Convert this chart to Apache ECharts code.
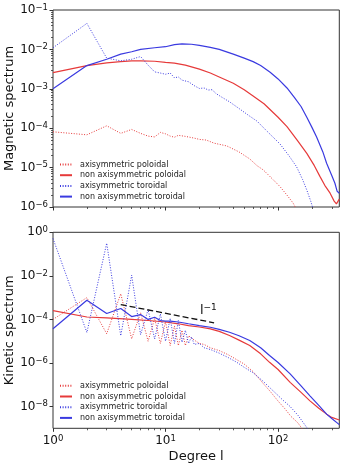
<!DOCTYPE html>
<html><head><meta charset="utf-8">
<script src="https://cdn.jsdelivr.net/npm/echarts@6/dist/echarts.min.js"></script>
<style>html,body{margin:0;padding:0;background:#fff}#c{width:343px;height:463px}</style>
</head><body><div id="c"></div>
<script>
// ---------- names / ticks ----------
const seriesNames = ['axisymmetric poloidal', 'non axisymmetric poloidal', 'axisymmetric toroidal', 'non axisymmetric toroidal'];
const xTicks = [1, 10, 100];
const xMinorTicks = [2, 3, 4, 5, 6, 7, 8, 9, 20, 30, 40, 50, 60, 70, 80, 90, 200, 300];
const magYTicks = [1e-6, 1e-5, 1e-4, 1e-3, 1e-2, 1e-1];
const kinYTicks = [1e-8, 1e-6, 1e-4, 1e-2, 1];
const xTitle = 'Degree l';
const magTitle = 'Magnetic spectrum';
const kinTitle = 'Kinetic spectrum';

// ---------- Magnetic spectrum ----------
const magAxiPolL = [1, 2, 3, 4, 5, 6, 7, 8, 9, 10, 11, 12, 13, 15, 18, 20, 23, 27, 35, 45, 56, 65, 74, 90, 104, 120, 136, 145];
const magAxiPolV = [8.1e-5, 6.8e-5, 1.15e-4, 7.4e-5, 9.3e-5, 7.4e-5, 6.3e-5, 6.0e-5, 7.8e-5, 7.2e-5, 6.3e-5, 5.9e-5, 6.6e-5, 6.2e-5, 5.6e-5, 5.2e-5, 5.0e-5, 4.17e-5, 3.55e-5, 2.5e-5, 1.66e-5, 1.12e-5, 8.7e-6, 5.0e-6, 3.3e-6, 2.0e-6, 1.26e-6, 8.9e-7];

const magNonPolL = [1, 2, 3, 4, 5, 6, 8, 10, 12, 15, 20, 25, 30, 40, 50, 60, 75, 100, 120, 150, 180, 210, 236, 260, 290, 315, 330, 340, 350];
const magNonPolV = [2.57e-3, 3.89e-3, 4.57e-3, 4.9e-3, 5.13e-3, 5.13e-3, 5.0e-3, 4.68e-3, 4.47e-3, 3.98e-3, 3.16e-3, 2.51e-3, 2.0e-3, 1.38e-3, 9.5e-4, 6.6e-4, 4.17e-4, 1.9e-4, 1.1e-4, 4.7e-5, 2.3e-5, 1.12e-5, 5.9e-6, 3.55e-6, 2.24e-6, 1.41e-6, 1.2e-6, 1.26e-6, 1.58e-6];

const magAxiTorL = [1, 2, 3, 4, 5, 6, 7, 8, 9, 10, 11, 12, 13, 14, 16, 18, 20, 22, 24, 26, 28, 32, 37, 45, 55, 65, 80, 104, 125, 146, 165, 180, 195, 205];
const magAxiTorV = [1.1e-2, 4.57e-2, 6.0e-3, 5.13e-3, 5.62e-3, 6.6e-3, 3.98e-3, 2.69e-3, 2.51e-3, 2.34e-3, 2.51e-3, 1.9e-3, 2.0e-3, 1.66e-3, 1.51e-3, 1.2e-3, 1.02e-3, 1.05e-3, 9.3e-4, 9.5e-4, 7.6e-4, 6.0e-4, 4.68e-4, 3.16e-4, 2.09e-4, 1.51e-4, 8.3e-5, 3.98e-5, 2.0e-5, 1.05e-5, 5.0e-6, 2.7e-6, 1.41e-6, 8.9e-7];

const magNonTorL = [1, 2, 3, 4, 5, 6, 8, 10, 12, 14, 17, 20, 25, 30, 40, 50, 60, 70, 85, 100, 120, 140, 160, 180, 200, 220, 250, 270, 300, 320, 335, 350];
const magNonTorV = [1.0e-3, 3.89e-3, 5.62e-3, 7.59e-3, 8.71e-3, 1.0e-2, 1.10e-2, 1.17e-2, 1.32e-2, 1.38e-2, 1.35e-2, 1.26e-2, 1.12e-2, 1.0e-2, 7.6e-3, 6.0e-3, 4.9e-3, 3.9e-3, 2.63e-3, 1.78e-3, 1.05e-3, 6.0e-4, 3.55e-4, 1.9e-4, 1.05e-4, 6.0e-5, 2.5e-5, 1.29e-5, 6.3e-6, 4.0e-6, 2.5e-6, 2.24e-6];

// ---------- Kinetic spectrum ----------
const kinAxiPolL = [1, 2, 3, 4, 5, 6, 7, 8, 9, 10, 11, 12, 13, 14, 15, 16, 18, 20, 22, 25, 30, 36, 43, 50, 60, 74, 85, 100, 115, 130, 150, 165];
const kinAxiPolV = [1.0e-4, 1.0e-3, 2.19e-5, 1.51e-3, 1.29e-5, 2.0e-4, 1.0e-5, 1.12e-4, 7.9e-6, 7.9e-5, 6.3e-6, 5.0e-5, 6.3e-6, 3.16e-5, 6.3e-6, 1.78e-5, 1.12e-5, 7.9e-6, 7.1e-6, 5.0e-6, 3.7e-6, 2.4e-6, 1.41e-6, 8.9e-7, 4.0e-7, 1.12e-7, 5.0e-8, 1.78e-8, 7.9e-9, 3.55e-9, 1.78e-9, 8.9e-10];

const kinNonPolL = [1, 2, 3, 5, 7, 10, 13, 16, 20, 25, 30, 37, 45, 56, 70, 84, 100, 128, 160, 192, 230, 270, 300, 350];
const kinNonPolV = [2.51e-4, 1.29e-4, 1.17e-4, 1.0e-4, 8.9e-5, 7.6e-5, 6.3e-5, 5.2e-5, 4.47e-5, 3.7e-5, 2.82e-5, 1.82e-5, 1.12e-5, 6.3e-6, 2.63e-6, 1.07e-6, 5.0e-7, 1.29e-7, 4.47e-8, 1.82e-8, 8.3e-9, 4.47e-9, 3.16e-9, 2.4e-9];

const kinAxiTorL = [1, 2, 3, 4, 5, 6, 7, 8, 9, 10, 11, 12, 13, 14, 15, 16, 17, 18, 20, 22, 25, 30, 36, 43, 50, 60, 74, 85, 98, 110, 128, 150, 168, 185];
const kinAxiTorV = [5.2e-1, 2.5e-5, 3.16e-1, 1.78e-5, 1.07e-2, 2.0e-5, 2.82e-4, 1.26e-5, 1.78e-4, 1.0e-5, 1.12e-4, 7.9e-6, 8.9e-5, 8.9e-6, 3.16e-5, 7.9e-6, 1.58e-5, 7.1e-6, 7.9e-6, 5.0e-6, 4.17e-6, 2.82e-6, 1.78e-6, 1.07e-6, 6.3e-7, 3.55e-7, 1.41e-7, 7.1e-8, 3.55e-8, 2.0e-8, 1.0e-8, 4.0e-9, 1.78e-9, 8.9e-10];

const kinNonTorL = [1, 2, 3, 4, 5, 6, 7, 8, 9, 10, 11, 13, 16, 20, 25, 30, 37, 45, 56, 70, 84, 100, 128, 160, 192, 230, 270, 300, 350];
const kinNonTorV = [3.7e-5, 7.6e-4, 1.86e-4, 3.16e-4, 1.35e-4, 1.66e-4, 1.0e-4, 1.26e-4, 8.9e-5, 8.3e-5, 8.3e-5, 7.6e-5, 6.3e-5, 5.2e-5, 4.37e-5, 3.47e-5, 2.57e-5, 1.78e-5, 1.07e-5, 5.0e-6, 2.19e-6, 1.05e-6, 3.16e-7, 8.9e-8, 3.1e-8, 1.12e-8, 4.47e-9, 2.82e-9, 1.48e-9];

// l^-1 reference slope
const slopeL = [4, 27];
const slopeV = [4.8e-4, 7.0e-5];
const slopeLabelAt = [24, 2.6e-4];

// ---------- styling ----------
const RED = '#e63a3a', BLUE = '#3a3ae0';
const FONT = 'DejaVu Sans';
const TXT = '#111';
const AX = '#333';

function zip(a, b) { return a.map((v, i) => [v, b[i]]); }
function sup(v) {
  const e = Math.round(Math.log10(v));
  const s = e < 0 ? '\u2212' + (-e) : String(e);
  return '{b|10}{s|' + s + '}';
}
const richTick = {
  b: { fontSize: 12, lineHeight: 14, fontFamily: FONT, color: TXT, verticalAlign: 'middle' },
  s: { fontSize: 8.5, lineHeight: 3, fontFamily: FONT, color: TXT, verticalAlign: 'top' }
};
function magMinor() {
  const out = [];
  for (let d = -6; d <= -2; d++) for (let k = 2; k <= 9; k++) out.push(k * Math.pow(10, d));
  return out;
}
const magYMinor = magMinor();

const dotted = [1, 1.6];
function lineSeries(name, xi, yi, xs, ys, color, isDotted, z) {
  return {
    type: 'line', name: name, xAxisIndex: xi, yAxisIndex: yi,
    data: zip(xs, ys), symbol: 'none', showSymbol: false, smooth: false, clip: true,
    lineStyle: { color: color, width: isDotted ? 1 : 1.2, type: isDotted ? dotted : 'solid' },
    itemStyle: { color: color }, z: z, animation: false
  };
}

function xAxisMajor(grid, showLabels) {
  return {
    gridIndex: grid, type: 'log', min: 1, max: 350, position: 'bottom',
    axisLine: { show: false }, splitLine: { show: false },
    axisTick: { show: true, inside: false, length: 3.5, customValues: xTicks, lineStyle: { color: AX, width: 1 } },
    axisLabel: { show: showLabels, customValues: xTicks, formatter: sup, rich: richTick, margin: 6, hideOverlap: false, showMinLabel: true, showMaxLabel: true },
    name: showLabels ? xTitle : '', nameLocation: 'middle', nameGap: 22, nameMoveOverlap: false,
    nameTextStyle: { fontSize: 13, fontFamily: FONT, color: TXT }
  };
}
function xAxisMinor(grid) {
  return {
    gridIndex: grid, type: 'log', min: 1, max: 350, position: 'bottom',
    axisLine: { show: false }, splitLine: { show: false },
    axisTick: { show: true, length: 2, customValues: xMinorTicks, lineStyle: { color: AX, width: 0.8 } },
    axisLabel: { show: false }
  };
}
function yAxisMajor(grid, min, max, ticks, title) {
  return {
    gridIndex: grid, type: 'log', min: min, max: max, position: 'left',
    axisLine: { show: false }, splitLine: { show: false },
    axisTick: { show: true, length: 3.5, customValues: ticks, lineStyle: { color: AX, width: 1 } },
    axisLabel: { show: true, customValues: ticks, formatter: sup, rich: richTick, margin: 5, showMinLabel: true, showMaxLabel: true },
    name: title, nameLocation: 'middle', nameRotate: 90, nameGap: 37, nameMoveOverlap: false,
    nameTextStyle: { fontSize: 13, fontFamily: FONT, color: TXT }
  };
}
function yAxisMinor(grid, min, max, ticks) {
  return {
    gridIndex: grid, type: 'log', min: min, max: max, position: 'left',
    axisLine: { show: false }, splitLine: { show: false },
    axisTick: { show: true, length: 2, customValues: ticks, lineStyle: { color: AX, width: 0.8 } },
    axisLabel: { show: false }
  };
}
function legend(top) {
  return {
    data: seriesNames, orient: 'vertical', left: 59, top: top, padding: 0,
    itemWidth: 12, itemHeight: 8, itemGap: 2.7, selectedMode: false,
    itemStyle: { opacity: 0 },
    textStyle: { fontSize: 8, fontFamily: FONT, color: '#222', padding: [0, 0, 0, 3] }
  };
}

const series = [
  lineSeries(seriesNames[0], 0, 0, magAxiPolL, magAxiPolV, RED, true, 2),
  lineSeries(seriesNames[1], 0, 0, magNonPolL, magNonPolV, RED, false, 3),
  lineSeries(seriesNames[2], 0, 0, magAxiTorL, magAxiTorV, BLUE, true, 4),
  lineSeries(seriesNames[3], 0, 0, magNonTorL, magNonTorV, BLUE, false, 5),
  lineSeries(seriesNames[0], 2, 2, kinAxiPolL, kinAxiPolV, RED, true, 2),
  lineSeries(seriesNames[1], 2, 2, kinNonPolL, kinNonPolV, RED, false, 3),
  lineSeries(seriesNames[2], 2, 2, kinAxiTorL, kinAxiTorV, BLUE, true, 4),
  lineSeries(seriesNames[3], 2, 2, kinNonTorL, kinNonTorV, BLUE, false, 5),
  {
    type: 'line', name: 'slope', xAxisIndex: 2, yAxisIndex: 2, data: zip(slopeL, slopeV),
    symbol: 'none', lineStyle: { color: '#111', width: 1.3, type: [6, 3] }, z: 6, animation: false,
    markPoint: {
      symbol: 'circle', symbolSize: 0, animation: false,
      data: [{ coord: slopeLabelAt }],
      label: {
        show: true, position: 'inside', formatter: '{a|l}{s|\u22121}',
        rich: {
          a: { fontSize: 13, lineHeight: 14, fontFamily: FONT, color: TXT, verticalAlign: 'middle' },
          s: { fontSize: 9, lineHeight: 3, fontFamily: FONT, color: TXT, verticalAlign: 'top' }
        }
      }
    }
  }
];

const chart = echarts.init(document.getElementById('c'), null, { renderer: 'canvas' });
chart.setOption({
  animation: false,
  backgroundColor: '#fff',
  textStyle: { fontFamily: FONT },
  grid: [
    { left: 53, right: 3.7, top: 10, height: 197, show: true, borderColor: AX, borderWidth: 1, backgroundColor: 'transparent', containLabel: false, outerBoundsMode: 'none' },
    { left: 53, right: 3.7, top: 232.3, height: 196, show: true, borderColor: AX, borderWidth: 1, backgroundColor: 'transparent', containLabel: false, outerBoundsMode: 'none' }
  ],
  legend: [legend(160.5), legend(381.8)],
  xAxis: [xAxisMajor(0, false), xAxisMinor(0), xAxisMajor(1, true), xAxisMinor(1)],
  yAxis: [
    yAxisMajor(0, 1e-6, 1e-1, magYTicks, magTitle),
    yAxisMinor(0, 1e-6, 1e-1, magYMinor),
    yAxisMajor(1, 1e-9, 1, kinYTicks, kinTitle)
  ],
  series: series
});
</script>
</body></html>
